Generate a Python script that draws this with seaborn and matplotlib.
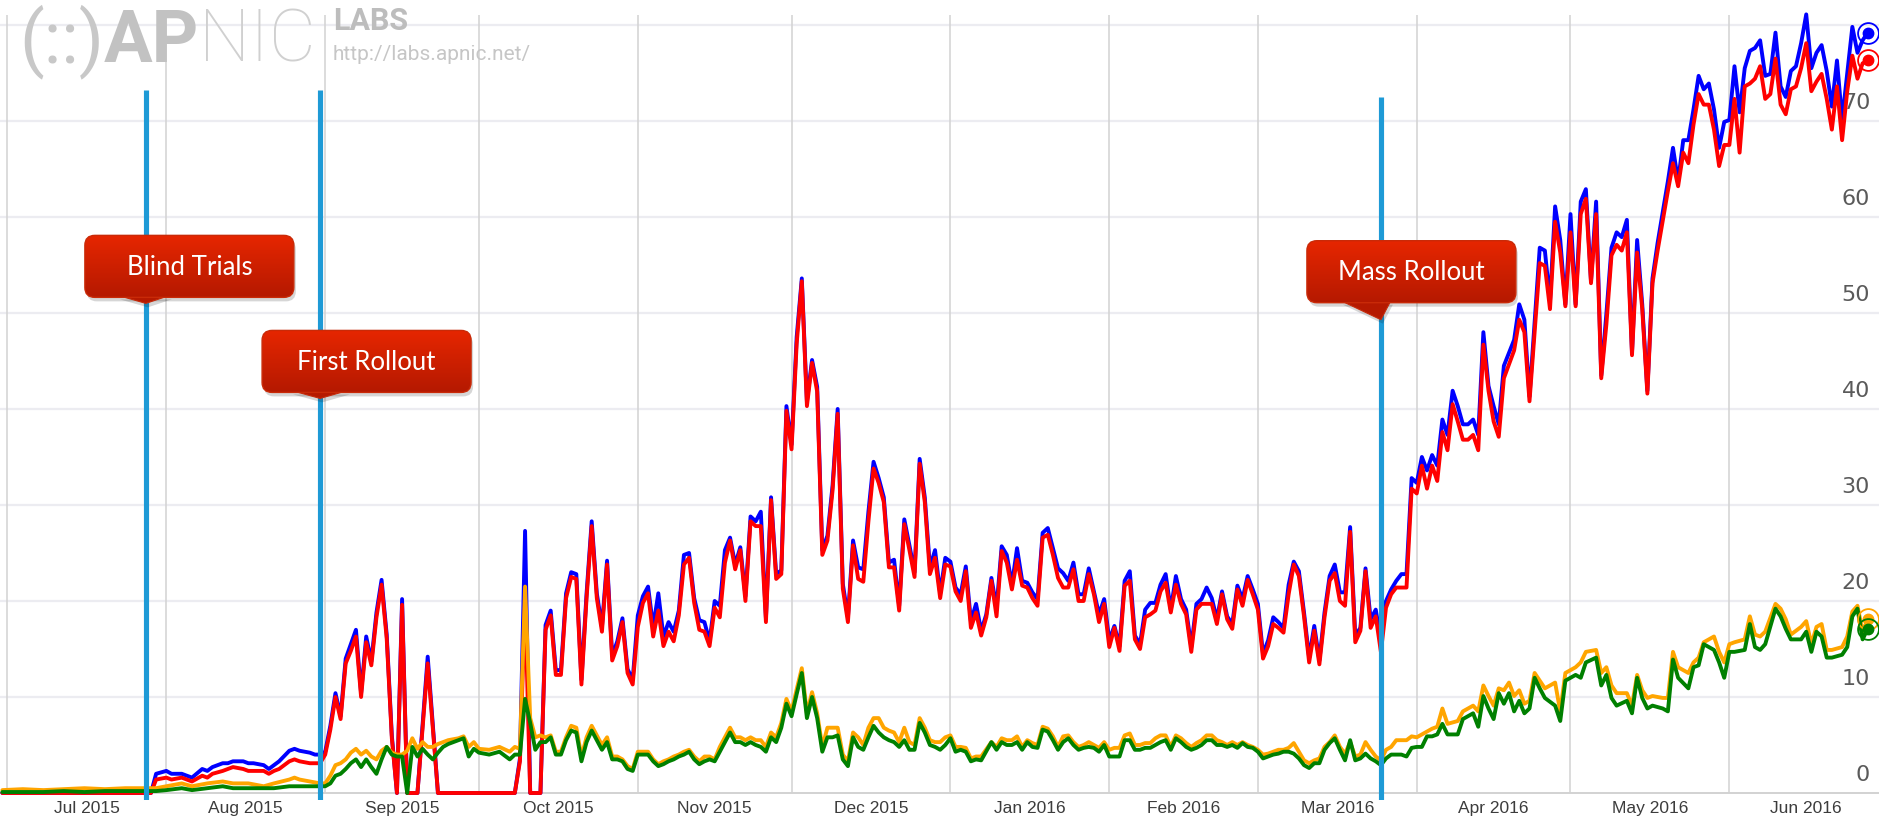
import matplotlib
matplotlib.use("Agg")
import matplotlib.pyplot as plt
import matplotlib.dates as mdates
from matplotlib.colors import LinearSegmentedColormap
from matplotlib.patches import FancyBboxPatch, Polygon
import numpy as np
import pandas as pd
import seaborn as sns

# ---- data: days counted from 1 Jul 2015 ----
START = pd.Timestamp("2015-07-01")

days_br = ([-1, 28]
           + [29, 31, 32, 34, 35, 36, 38, 39, 40, 42, 43, 44, 46, 47, 48, 50, 51, 52, 53, 55, 56, 57, 59, 60, 61]
           + list(range(62, 79)) + [80, 82, 84]
           + [99, 100, 101, 102, 104]
           + list(range(105, 293)) + list(range(294, 298))
           + list(range(299, 323)) + list(range(324, 364)))

blue = ([0.0, 0.0]
        + [2.0, 2.3, 2.0, 2.0, 1.8, 1.6, 2.5, 2.3, 2.7, 3.1, 3.1, 3.3, 3.3, 3.1, 3.1, 2.9, 2.5, 2.9, 3.3, 4.4, 4.6, 4.4, 4.2, 4.0, 4.0]
        + [4.3, 7.0, 10.4, 8.0, 14.0, 15.5, 17.0, 10.4, 16.3, 13.7, 18.8, 22.2, 16.5, 6.0, 0.0, 20.2, 0.0, 0.0, 14.2, 0.0]
        + [0.0, 3.6, 27.3, 0.0, 0.0]
        # 105 - 183
        + [17.5, 19.0, 12.8, 12.8, 20.8, 23.0, 22.8, 11.8, 20.8, 28.3,
           20.8, 17.3, 24.2, 14.3, 15.8, 18.2, 12.9, 11.8, 18.5, 20.5,
           21.5, 17.3, 20.8, 16.3, 17.8, 16.8, 19.0, 24.8, 25.0, 20.3,
           18.0, 17.8, 15.8, 20.0, 19.5, 25.3, 26.6, 23.8, 25.6, 20.5,
           28.8, 28.3, 29.3, 18.2, 30.8, 22.8, 23.2, 40.3, 36.3, 47.5,
           53.6, 40.8, 45.1, 42.3, 25.3, 26.8, 32.0, 40.0, 21.8, 18.3,
           26.3, 23.5, 23.3, 29.3, 34.5, 32.8, 30.8, 24.0, 24.3, 19.5,
           28.5, 25.8, 23.0, 34.8, 30.8, 23.5, 25.3, 20.8, 24.5]
        # 184 - 274
        + [24.1, 21.4, 20.7, 23.6, 17.9, 19.7, 16.9, 18.6, 22.4, 19.3,
           25.7, 24.8, 21.7, 25.5, 22.1, 21.9, 20.9, 20.2, 27.1, 27.6,
           25.5, 23.4, 22.9, 22.1, 24.0, 20.7, 20.7, 23.4, 21.0, 18.6,
           20.2, 15.9, 17.4, 15.3, 22.1, 23.1, 16.4, 15.5, 19.1, 19.8,
           19.8, 21.7, 22.8, 19.1, 22.6, 20.2, 19.1, 15.2, 19.7, 20.2,
           21.4, 20.3, 18.1, 21.0, 18.4, 17.6, 21.6, 20.2, 22.6, 21.2,
           19.7, 14.5, 15.9, 18.3, 17.8, 17.2, 21.7, 24.1, 23.1, 18.8,
           14.1, 17.4, 13.8, 18.8, 22.6, 23.8, 20.9, 20.9, 27.7, 16.4,
           17.2, 23.4, 18.1, 19.1, 15.9, 20.0, 21.2, 22.1, 22.8, 22.8,
           32.8]
        # 275 - 292, 294 - 297, 299 - 322, 324 - 363
        + [32.3, 35.0, 33.6, 35.2, 34.1, 38.9, 37.3, 41.9, 40.3, 38.4, 38.4, 38.9, 37.3, 48.0, 42.4, 40.3, 38.4, 44.5]
        + [47.2, 50.9, 49.3, 41.3]
        + [56.8, 56.5, 51.2, 61.1, 57.6, 50.9, 60.3, 50.9, 61.6, 62.9, 53.3, 61.6,
           43.5, 49.9, 56.8, 58.4, 57.9, 59.7, 45.9, 57.6, 50.9, 41.9, 53.6, 57.3]
        + [63.7, 67.2, 63.7, 68.0, 68.0, 71.2, 74.7, 73.3, 73.9, 71.2,
           67.2, 69.9, 70.1, 75.7, 70.9, 75.5, 77.3, 77.6, 78.4, 74.7,
           74.9, 79.2, 73.6, 72.5, 75.2, 75.7, 78.1, 81.1, 75.5, 77.1,
           77.9, 75.2, 71.5, 76.3, 70.1, 74.9, 79.8, 77.1, 78.4, 79.2])

red = ([0.0, 0.0]
       + [1.4, 1.6, 1.4, 1.6, 1.4, 1.2, 1.8, 1.6, 2.0, 2.3, 2.5, 2.7, 2.5, 2.3, 2.3, 2.3, 2.0, 2.3, 2.5, 3.3, 3.5, 3.3, 3.1, 3.1, 3.1]
       + [4.0, 6.6, 10.0, 7.7, 13.5, 14.8, 16.3, 10.0, 15.7, 13.3, 18.3, 21.7, 16.1, 5.7, 0.0, 19.6, 0.0, 0.0, 13.5, 0.0]
       + [0.0, 3.3, 20.0, 0.0, 0.0]
       + [17.0, 18.5, 12.3, 12.3, 20.3, 22.5, 22.3, 11.3, 20.3, 27.8,
          20.3, 16.8, 23.8, 13.8, 15.3, 17.8, 12.5, 11.3, 17.3, 19.8,
          20.8, 16.3, 19.0, 15.3, 16.8, 15.8, 18.5, 23.8, 24.5, 19.8,
          17.0, 16.8, 15.3, 19.3, 18.3, 24.0, 26.3, 23.3, 25.3, 20.0,
          28.3, 27.8, 27.8, 17.8, 30.5, 22.3, 22.8, 39.8, 35.8, 46.8,
          53.3, 40.3, 44.8, 41.8, 24.8, 26.3, 31.5, 39.5, 21.3, 17.8,
          25.8, 22.3, 22.0, 28.3, 33.8, 32.3, 30.3, 23.5, 23.5, 19.0,
          28.0, 25.3, 22.5, 34.3, 30.3, 22.8, 24.5, 20.3, 23.8]
       + [23.6, 21.0, 20.0, 23.1, 17.2, 18.8, 16.4, 18.3, 22.1, 18.4,
          25.2, 24.0, 21.2, 24.3, 21.6, 21.4, 20.3, 19.5, 26.6, 26.9,
          24.8, 22.4, 21.4, 21.4, 23.3, 20.0, 20.0, 22.8, 20.7, 17.8,
          19.7, 15.2, 17.2, 14.8, 21.6, 22.1, 16.0, 15.0, 18.3, 18.6,
          19.0, 21.0, 21.9, 18.8, 21.7, 19.7, 18.6, 14.7, 19.1, 19.7,
          19.7, 19.7, 17.6, 20.7, 18.1, 17.1, 21.2, 19.5, 22.2, 20.7,
          19.1, 14.0, 15.3, 17.6, 17.2, 16.7, 20.7, 23.8, 22.6, 18.4,
          13.6, 16.9, 13.4, 18.3, 22.1, 22.9, 20.0, 19.5, 27.2, 15.7,
          16.9, 23.1, 17.2, 18.4, 14.7, 19.3, 20.7, 21.4, 21.4, 21.4,
          31.7]
       + [31.2, 34.1, 31.7, 34.1, 32.5, 37.6, 35.7, 40.5, 38.7, 36.8, 36.8, 37.3, 35.7, 46.7, 41.9, 38.7, 37.1, 43.2]
       + [46.1, 49.3, 48.0, 40.8]
       + [55.2, 54.9, 50.4, 59.5, 56.3, 50.7, 58.4, 50.7, 60.3, 61.9, 53.1, 60.3,
          43.2, 48.8, 56.0, 57.1, 56.5, 58.4, 45.6, 56.3, 50.4, 41.6, 53.1, 56.5]
       + [62.7, 65.6, 63.2, 66.7, 65.6, 69.6, 72.8, 71.7, 71.7, 69.1,
          65.3, 67.5, 67.5, 72.3, 66.7, 73.6, 73.9, 74.4, 75.7, 72.3,
          72.8, 76.5, 71.7, 70.7, 73.3, 73.6, 75.5, 78.1, 73.1, 74.1,
          74.9, 72.3, 69.1, 73.6, 68.0, 73.1, 76.8, 74.4, 76.0, 76.3])

days_og = ([-1, 3, 7, 11, 15, 19, 23, 27]
           + [29, 31, 34, 36, 39, 42, 44, 47, 50, 52, 55, 56, 57, 59, 61]
           + list(range(62, 87)) + [88, 89, 90, 91, 92]
           + [94, 96, 98, 99, 100]
           + list(range(101, 184))
           + list(range(184, 191)) + list(range(192, 275))
           + [275, 276, 277, 278, 279, 280, 281, 283, 284, 285, 286, 287, 288, 289, 290, 291, 292, 293,
              294, 295, 296, 297, 298, 299, 300, 302, 303, 304, 306, 307, 308, 310, 311, 312, 313, 314,
              316, 317, 318, 319, 320, 321, 323, 324, 325, 326, 328, 329, 330, 331, 333, 334, 335, 336,
              337, 339, 340, 341, 342, 343, 345, 346, 347, 348, 350, 351, 352, 353, 354, 355, 356, 358,
              359, 360, 361, 362, 363])

orange = ([0.3, 0.4, 0.3, 0.4, 0.5, 0.4, 0.5, 0.5]
          + [0.5, 0.7, 1.0, 0.7, 1.0, 1.2, 1.0, 1.0, 0.7, 1.0, 1.4, 1.6, 1.4, 1.2, 1.0]
          + [1.0, 1.8, 2.9, 3.1, 3.5, 4.2, 4.6, 4.0, 4.4, 3.8, 3.5, 4.4, 4.8, 4.2, 4.0, 4.0, 4.4,
             5.7, 4.6, 5.3, 4.8, 4.8, 5.1, 5.3, 5.5]
          + [5.7, 5.9, 4.8, 5.3, 4.6]
          + [4.5, 4.8, 4.3, 4.8, 4.6]
          # 101 - 183
          + [21.5, 7.8, 5.8, 6.0, 5.8, 6.0, 4.3, 4.3, 5.8, 7.0,
             6.8, 3.8, 5.8, 7.0, 6.0, 5.0, 5.8, 3.8, 3.8, 3.5,
             2.8, 2.5, 4.3, 4.3, 4.3, 3.5, 3.0, 3.3, 3.5, 3.8,
             4.0, 4.3, 4.5, 3.8, 3.3, 3.8, 3.8, 3.5, 4.8, 5.8,
             6.8, 5.8, 5.8, 5.5, 5.8, 5.5, 5.5, 4.8, 6.3, 5.8,
             7.3, 9.8, 8.5, 10.8, 13.0, 8.3, 10.5, 8.3, 4.8, 6.8,
             6.8, 6.8, 4.0, 3.3, 6.3, 5.8, 5.0, 6.8, 7.8, 7.8,
             6.8, 6.5, 6.3, 5.3, 6.8, 5.3, 5.0, 7.8, 6.8, 5.5,
             5.3, 5.3, 5.8]
          # 184 - 190, 192 - 274
          + [6.0, 4.8, 4.8, 4.7, 3.6, 3.8, 3.8]
          + [5.3, 4.8, 5.7, 5.5, 5.5, 5.9, 4.8, 5.5, 5.2, 5.0,
             6.9, 6.7, 5.9, 4.8, 5.9, 6.0, 5.3, 4.8, 5.0, 5.3,
             5.0, 4.7, 5.3, 4.5, 4.7, 4.7, 6.0, 6.2, 5.0, 5.0,
             5.2, 5.2, 5.7, 6.0, 6.0, 4.8, 6.0, 5.7, 5.2, 4.8,
             5.2, 5.5, 6.0, 6.0, 5.5, 5.3, 5.0, 5.3, 5.0, 5.3,
             5.0, 4.8, 4.5, 4.0, 4.1, 4.3, 4.5, 4.5, 4.7, 5.2,
             4.3, 3.4, 3.1, 3.4, 3.6, 4.8, 5.3, 6.0, 4.8, 4.1,
             5.3, 3.8, 4.0, 5.3, 4.5, 3.8, 3.4, 4.5, 4.8, 5.5,
             5.5, 5.5, 5.9]
          # April - June 2016
          + [5.8, 6.1, 6.4, 6.7, 6.9, 8.8, 7.2]
          + [7.5, 8.5, 8.8, 9.1, 8.5, 11.2, 10.1, 9.1, 10.9, 10.7, 11.5, 10.1, 10.7, 9.3, 9.6, 12.5, 11.7, 10.9]
          + [11.5, 8.5, 12.5, 13.1, 13.6, 14.7, 14.9, 12.5, 13.1, 11.2, 10.4]
          + [10.4, 9.1, 12.3, 10.7, 9.9, 10.1, 9.9, 9.9, 14.7, 13.1]
          + [12.5, 13.6, 14.1, 15.7, 16.3, 14.7, 13.6, 15.5, 15.7]
          + [16.0, 18.4, 16.5, 16.3, 16.8, 19.7, 19.2, 18.1, 16.5]
          + [17.3, 17.9, 15.5, 17.3, 17.6, 14.9, 14.9, 15.2, 16.3, 18.9, 19.5, 16.8, 18.1])

green = ([0.1, 0.1, 0.1, 0.2, 0.1, 0.2, 0.2, 0.2]
         + [0.2, 0.3, 0.5, 0.3, 0.5, 0.7, 0.5, 0.5, 0.5, 0.5, 0.7, 0.7, 0.7, 0.7, 0.7]
         + [0.7, 1.0, 1.8, 2.0, 2.5, 3.1, 3.5, 2.7, 3.5, 2.7, 2.0, 3.5, 4.8, 4.0, 3.8, 3.8, 0.0,
            4.8, 3.8, 4.6, 4.0, 3.5, 4.2, 4.8, 5.1]
         + [5.5, 5.7, 3.8, 4.6, 4.2]
         + [4.0, 4.3, 3.5, 4.0, 4.0]
         + [9.8, 7.3, 4.5, 5.3, 5.3, 5.8, 4.0, 4.0, 5.5, 6.5,
            6.3, 3.3, 5.3, 6.5, 5.5, 4.5, 5.3, 3.5, 3.5, 3.3,
            2.5, 2.3, 4.0, 4.0, 4.0, 3.3, 2.8, 3.0, 3.3, 3.5,
            3.8, 4.0, 4.3, 3.5, 3.0, 3.3, 3.5, 3.3, 4.3, 5.3,
            6.3, 5.3, 5.3, 5.0, 5.3, 5.0, 4.8, 4.3, 5.8, 5.3,
            6.8, 9.3, 8.0, 10.3, 12.5, 7.8, 10.0, 7.8, 4.3, 5.8,
            5.8, 6.0, 3.5, 2.8, 5.8, 4.8, 4.5, 5.8, 7.0, 6.3,
            5.8, 5.5, 5.3, 4.8, 5.5, 4.5, 4.5, 7.3, 6.3, 5.0,
            4.8, 4.5, 5.0]
         + [5.7, 4.3, 4.5, 4.3, 3.3, 3.5, 3.4]
         + [5.3, 4.5, 5.3, 5.0, 5.0, 5.3, 4.5, 5.3, 4.8, 4.7,
            6.6, 6.4, 5.5, 4.5, 5.3, 5.7, 5.0, 4.5, 4.7, 4.8,
            4.7, 4.3, 5.0, 3.8, 3.8, 3.8, 5.5, 5.5, 4.5, 4.5,
            4.7, 4.7, 5.0, 5.3, 5.5, 4.5, 5.7, 5.3, 4.8, 4.5,
            4.7, 5.0, 5.5, 5.5, 5.0, 5.0, 4.8, 5.0, 4.7, 5.2,
            4.8, 4.7, 4.3, 3.6, 3.8, 4.0, 4.1, 4.3, 4.3, 4.1,
            3.6, 2.9, 2.6, 3.1, 3.1, 4.5, 5.2, 5.7, 4.5, 3.4,
            5.5, 3.4, 3.6, 4.1, 3.6, 3.3, 2.9, 3.6, 4.0, 4.0,
            4.0, 3.8, 4.7]
         + [4.8, 4.8, 5.9, 5.9, 6.1, 7.2, 6.1]
         + [6.1, 7.7, 8.0, 8.3, 6.9, 10.1, 8.8, 7.7, 10.4, 9.3, 10.4, 8.5, 9.6, 8.3, 8.8, 12.0, 10.9, 9.9]
         + [9.1, 7.5, 11.7, 12.3, 12.0, 13.6, 14.1, 11.2, 12.3, 9.9, 9.1]
         + [9.6, 8.3, 12.0, 9.9, 8.8, 9.1, 8.8, 8.5, 13.9, 12.0]
         + [10.9, 13.1, 13.3, 15.5, 14.9, 13.6, 12.0, 14.7, 14.7]
         + [14.9, 17.6, 15.2, 14.9, 15.5, 19.2, 18.4, 17.1, 16.0]
         + [16.0, 16.8, 14.7, 16.8, 16.3, 14.1, 14.1, 14.4, 15.2, 18.4, 19.2, 16.0, 17.1])

month_labels = ["Jul 2015", "Aug 2015", "Sep 2015", "Oct 2015", "Nov 2015", "Dec 2015",
                "Jan 2016", "Feb 2016", "Mar 2016", "Apr 2016", "May 2016", "Jun 2016"]
y_ticks = [0, 10, 20, 30, 40, 50, 60, 70]

event_labels = ["Blind Trials", "First Rollout", "Mass Rollout"]
event_dates = ["2015-07-28", "2015-08-31", "2016-03-25"]
event_tops = [73.2, 73.2, 72.5]
callout_tips = [51.0, 41.1, 49.3]

df_br = pd.DataFrame({"date": START + pd.to_timedelta(days_br, unit="D"), "blue": blue, "red": red})
df_og = pd.DataFrame({"date": START + pd.to_timedelta(days_og, unit="D"), "orange": orange, "green": green})

# ---- figure ----
sns.set_theme(style="white")
plt.rcParams["font.family"] = ["Liberation Sans", "DejaVu Sans"]

W, H = 1879, 827
fig = plt.figure(figsize=(W / 100, H / 100), dpi=100)
ax = fig.add_axes([0, 27 / H, 1, 800 / H])
ax.set_facecolor("white")

x0 = mdates.date2num(START)
ax.set_xlim(x0 - 1.46, x0 + 365.2)
ax.set_ylim(-0.73, 82.6)

for s in ax.spines.values():
    s.set_visible(False)

# grid
for v in range(10, 90, 10):
    ax.axhline(v, color="#ECECF1", lw=1.6, zorder=0)
ax.axhline(0, color="#CFCFCF", lw=1.3, zorder=0)

month_starts = pd.date_range("2015-07-01", "2016-07-01", freq="MS")
ax.vlines(mdates.date2num(month_starts[:-1].to_pydatetime()), 0, 81,
          color="#D2D2D2", lw=1.1, zorder=0)

mids = month_starts[:-1] + (month_starts[1:] - month_starts[:-1]) / 2
ax.set_xticks(mdates.date2num(mids.to_pydatetime()))
ax.set_xticklabels(month_labels)
ax.tick_params(axis="x", length=0, pad=0.5, labelsize=12.5, labelcolor="#3c3c3c")
ax.set_yticks([])

# right-side value labels, drawn inside the plot
for v in y_ticks:
    ax.annotate(str(v), xy=(1870 / W, v), xycoords=("axes fraction", "data"),
                xytext=(0, 18), textcoords="offset pixels",
                ha="right", va="center", fontsize=16, color="#5a5a5a",
                family=["DejaVu Sans"], zorder=2)

# series
series = [(df_br, "blue", "#0000FF"), (df_br, "red", "#FF0000"),
          (df_og, "orange", "#FFA500"), (df_og, "green", "#008000")]
for df, col, c in series:
    sns.lineplot(data=df, x="date", y=col, color=c, lw=2.8, ax=ax, zorder=3)
for df, col, c in series:
    last_x = df["date"].iloc[-1]
    last_y = df[col].iloc[-1]
    ax.plot([last_x], [last_y], "o", ms=7.5, color=c, zorder=4)
    ax.plot([last_x], [last_y], "o", ms=15, mfc="none", mec=c, mew=1.3, zorder=4)
ax.set_xlabel("")
ax.set_ylabel("")

# event lines
ev = pd.to_datetime(event_dates)
for d, top in zip(ev, event_tops):
    ax.vlines(mdates.date2num(d.to_pydatetime()), -0.73, top, color="#1E9AD6", lw=3.7, zorder=5)

# watermark
renderer = fig.canvas.get_renderer()
t1 = fig.text(19 / W, 1 - 62 / H, "(::)", fontsize=52, family=["Roboto", "DejaVu Sans"],
              color="#C8C8C8", ha="left", va="baseline", zorder=0.5)
bb = t1.get_window_extent(renderer)
t2 = fig.text(bb.x1 / W, 1 - 62 / H, "AP", fontsize=52, fontweight="bold",
              family=["Roboto", "DejaVu Sans"], color="#C2C2C2", ha="left", va="baseline", zorder=0.5)
bb = t2.get_window_extent(renderer)
fig.text(bb.x1 / W, 1 - 62 / H, "NIC", fontsize=52, fontweight="light",
         family=["Roboto", "DejaVu Sans"], color="#D0D0D0", ha="left", va="baseline", zorder=0.5)
fig.text(333 / W, 1 - 30 / H, "LABS", fontsize=22, fontweight="bold",
         family=["Roboto", "DejaVu Sans"], color="#BDBDBD", ha="left", va="baseline", zorder=0.5)
fig.text(333 / W, 1 - 60 / H, "http://labs.apnic.net/", fontsize=15,
         family=["Roboto", "DejaVu Sans"], color="#C6C6C6", ha="left", va="baseline", zorder=0.5)

# callouts, drawn in a pixel overlay
ov = fig.add_axes([0, 0, 1, 1])
ov.set_xlim(0, W)
ov.set_ylim(H, 0)
ov.axis("off")

cmap = LinearSegmentedColormap.from_list("callout", ["#E62600", "#B51900"])
box_left = [-61, -58, -74]
box_depth = [6, 6, 17]
box_base = [(-28, 24), (-29, 28), (-40, 10)]
box_w, box_h = 209, 62
grad = np.linspace(0, 1, 64).reshape(-1, 1)

for i, (label, d) in enumerate(zip(event_labels, ev)):
    px, py = ax.transData.transform((mdates.date2num(d.to_pydatetime()), callout_tips[i]))
    tip_x, tip_y = px, H - py
    bottom = tip_y - box_depth[i]
    top = bottom - box_h
    left = tip_x + box_left[i]
    bl, br = box_base[i]

    # shadow
    ov.add_patch(FancyBboxPatch((left + 2, top + 4), box_w, box_h,
                                boxstyle="round,pad=0,rounding_size=10",
                                fc="#000000", ec="none", alpha=0.16, zorder=1))
    ov.add_patch(Polygon([(tip_x + bl + 2, bottom + 2), (tip_x + 2, tip_y + 4), (tip_x + br + 2, bottom + 2)],
                         closed=True, fc="#000000", ec="none", alpha=0.16, zorder=1))
    # pointer
    ov.add_patch(Polygon([(tip_x + bl, bottom - 2), (tip_x, tip_y), (tip_x + br, bottom - 2)],
                         closed=True, fc="#B51900", ec="#C52A0A", lw=0.8, zorder=2))
    # box with vertical gradient
    box = FancyBboxPatch((left, top), box_w, box_h, boxstyle="round,pad=0,rounding_size=10",
                         fc="none", ec="#C92A08", lw=1.0, zorder=4)
    ov.add_patch(box)
    im = ov.imshow(grad, extent=[left, left + box_w, bottom, top], cmap=cmap,
                   aspect="auto", origin="upper", zorder=3, interpolation="bilinear")
    im.set_clip_path(box)
    ov.text(left + box_w / 2, top + box_h / 2 + 1, label, color="white", fontsize=18.5,
            family=["Lato", "DejaVu Sans"], ha="center", va="center", zorder=5)

ov.set_xlim(0, W)
ov.set_ylim(H, 0)

fig.savefig("out.png", dpi=100)
plt.close(fig)
